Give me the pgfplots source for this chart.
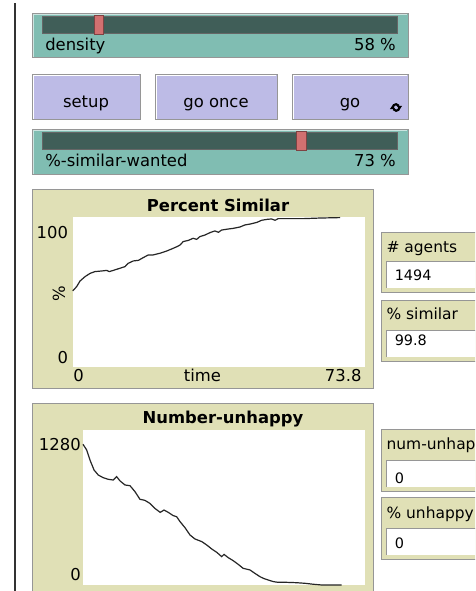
\documentclass[border=0pt]{standalone}
\usepackage{fontspec}
\setmainfont{DejaVu Sans}
\usepackage{pgfplots}
\pgfplotsset{compat=1.18}
\definecolor{slider}{RGB}{128,189,178}
\definecolor{track}{RGB}{64,94,88}
\definecolor{thumb}{RGB}{210,112,112}
\definecolor{button}{RGB}{189,187,230}
\definecolor{plotbg}{RGB}{224,224,182}
\definecolor{bevel}{RGB}{150,150,150}
\begin{document}
\begin{tikzpicture}[font=\fontsize{12.3}{14}\selectfont]
\begin{scope}[x=0.75pt,y=0.75pt]
\path[use as bounding box] (0,0) rectangle (475,591);
\clip (0,0) rectangle (475,591);
% left separator
\draw[line width=1.5pt, black!80] (15,0) -- (15,588);
% density slider
\filldraw[fill=slider, draw=bevel, line width=0.75pt] (32,533) rectangle (408,577);
\draw[white!60!slider, line width=0.75pt] (33,534) -- (33,576) -- (407,576);
\filldraw[fill=track, draw=black!60, line width=0.75pt] (42,557) rectangle (397,574);
\filldraw[fill=thumb, draw=black!40!thumb, line width=0.75pt] (94,556) rectangle (103,575);
\node[anchor=base west, inner sep=0] at (45,540.3) {density};
\node[anchor=base east, inner sep=0] at (396,540.3) {58 \%};
% buttons
\foreach \a/\b/\t in {32/140/setup, 155/277/go once, 292/408/go}{
  \filldraw[fill=button, draw=bevel, line width=0.75pt] (\a,471) rectangle (\b,516);
  \draw[white, line width=0.75pt] (\a+1,472) -- (\a+1,515) -- (\b-1,515);
  \node[anchor=base, inner sep=0] at ({(\a+\b)/2},483.7) {\t};
}
% forever icon
\draw[line width=1.6pt] (392.8,483.5) arc (180:30:3.3);
\fill (396.8,485.2) -- (402.2,485.2) -- (399.5,481.4) -- cycle;
\draw[line width=1.6pt] (399.4,483.5) arc (0:-150:3.3);
\fill (389.8,481.8) -- (395.2,481.8) -- (392.5,485.6) -- cycle;
% %-similar-wanted slider
\filldraw[fill=slider, draw=bevel, line width=0.75pt] (32,416) rectangle (408,461);
\draw[white!60!slider, line width=0.75pt] (33,417) -- (33,460) -- (407,460);
\filldraw[fill=track, draw=black!60, line width=0.75pt] (42,441) rectangle (397,458);
\filldraw[fill=thumb, draw=black!40!thumb, line width=0.75pt] (296,440) rectangle (306,459);
\node[anchor=base west, inner sep=0] at (45,424.3) {\%-similar-wanted};
\node[anchor=base east, inner sep=0] at (396,424.3) {73 \%};
% plot 1 frame
\filldraw[fill=plotbg, draw=bevel, line width=0.75pt] (32,202) rectangle (373,401);
\fill[white] (72.7,224) rectangle (365,374);
\node[anchor=base, inner sep=0, font=\fontsize{12.3}{14}\selectfont\bfseries] at (218,379.3) {Percent Similar};
\node[anchor=base east, inner sep=0] at (68.3,352.7) {100};
\node[anchor=base east, inner sep=0] at (68.3,227.7) {0};
\node[rotate=90, inner sep=0] at (59,297.7) {\%};
\node[anchor=base west, inner sep=0] at (73,209.3) {0};
\node[anchor=base, inner sep=0] at (202.5,209.3) {time};
\node[anchor=base east, inner sep=0] at (361.7,209.3) {73.8};
% plot 2 frame
\filldraw[fill=plotbg, draw=bevel, line width=0.75pt] (32,-5) rectangle (373,187);
\fill[white] (83,6) rectangle (365,161);
\node[anchor=base, inner sep=0, font=\fontsize{12.3}{14}\selectfont\bfseries] at (223,167.7) {Number-unhappy};
\node[anchor=base east, inner sep=0] at (81,140.3) {1280};
\node[anchor=base east, inner sep=0] at (81,10.3) {0};
% monitors
\foreach \lo/\hi/\lab/\val/\lb/\vb in {298/358/\# agents/1494/338.7/310.3, 229/290/\% similar/99.8/271/245, 99/161/num-unhappy/0/141/107.7, 31/93/\% unhappy/0/72.7/42.7}{
  \filldraw[fill=plotbg, draw=bevel, line width=0.75pt] (381,\lo) rectangle (485,\hi);
  \fill[white] (386,\lo+5) rectangle (485,\lo+31);
  \draw[bevel, line width=0.75pt] (386,\lo+5) -- (386,\lo+31) -- (485,\lo+31);
  \node[anchor=base west, inner sep=0, font=\fontsize{11.6}{13}\selectfont] at (386.3,\lb) {\lab};
  \node[anchor=base west, inner sep=0, font=\fontsize{10.8}{12}\selectfont] at (394.5,\vb) {\val};
}
\end{scope}
% plot 1 data
\begin{axis}[at={(54.525pt,168pt)}, anchor=south west, scale only axis,
  width=219.2pt, height=112.5pt, xmin=0, xmax=73.8, ymin=0, ymax=100,
  axis line style={draw=none}, ticks=none, clip=false]
\addplot[black!85, line width=0.9pt] coordinates {
(0,50.7) (1.0,53.6) (1.84,57.3) (3.1,60.2) (4.37,62.4) (5.63,63.6) (7.3,64.0)
(8.6,64.4) (9.24,63.6) (10.25,64.4) (11.9,65.8) (13.2,66.9) (14.0,69.1)
(15.3,70.7) (16.6,71.1) (17.8,72.9) (19.1,74.7) (20.3,74.7) (22.0,75.8)
(23.7,77.3) (25.0,78.7) (26.3,80.2) (27.1,81.3) (27.9,83.6) (29.2,84.4)
(30.4,85.8) (31.3,85.1) (32.1,86.9) (33.4,88.0) (34.7,89.6) (35.9,90.7)
(36.8,89.8) (37.6,91.3) (39.3,92.0) (40.5,92.4) (42.2,93.3) (43.5,94.7)
(44.8,95.3) (46.5,96.4) (47.7,97.8) (49.0,98.4) (50.2,98.7) (51.1,97.8)
(51.9,98.9) (54.0,98.9) (58.2,98.9) (62.4,99.3) (67.5,99.6)
};
\end{axis}
% plot 2 data
\begin{axis}[at={(62.25pt,4.5pt)}, anchor=south west, scale only axis,
  width=211.5pt, height=116.25pt, xmin=0, xmax=73.8, ymin=0, ymax=1280,
  axis line style={draw=none}, ticks=none, clip=false]
\addplot[black!85, line width=0.9pt] coordinates {
(0,1162) (0.96,1115) (1.83,1032) (2.88,950) (4.0,908) (5.3,886) (6.6,873)
(7.9,867) (8.8,895) (9.7,859) (11.0,826) (12.3,820) (13.6,771) (14.9,708)
(16.2,699) (17.5,674) (18.8,633) (20.2,600) (21.2,619) (22.3,600) (23.6,573)
(24.5,564) (25.4,523) (26.7,473) (28.0,413) (29.3,380) (31.1,358) (32.4,330)
(33.7,297) (35.0,270) (36.3,234) (36.9,253) (38.0,226) (39.3,201) (40.6,171)
(41.9,138) (43.7,124) (45.0,96) (46.3,69) (47.2,55) (48.5,41) (49.8,28)
(51.1,22) (53.3,22) (55.9,19) (58.1,14) (60.3,6) (62.5,0) (64.6,0) (67.7,0)
};
\end{axis}
\end{tikzpicture}
\end{document}
